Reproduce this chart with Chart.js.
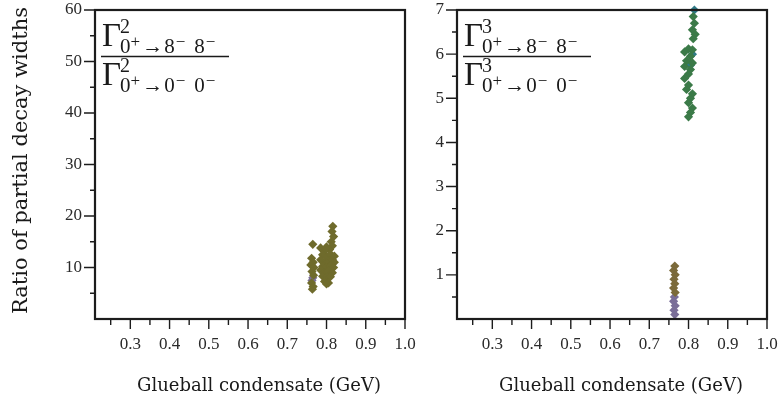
<!DOCTYPE html>
<html><head><meta charset="utf-8">
<script src="https://cdn.jsdelivr.net/npm/chart.js@4.4.1/dist/chart.umd.min.js"></script>
<style>
html,body{margin:0;padding:0;background:#fff;}
#wrap{position:relative;width:782px;height:406px;overflow:hidden;}
.pane{position:absolute;top:0;height:406px;}
#p1{left:0;width:420px;}
#p2{left:420px;width:362px;}
</style></head><body>
<div id="wrap"><div class="pane" id="p1"><canvas id="c1" width="420" height="406"></canvas></div><div class="pane" id="p2"><canvas id="c2" width="362" height="406"></canvas></div></div>
<script>
// ---- data ----
const xRange = [0.21, 1.0];
const xMajorTicks = [0.3, 0.4, 0.5, 0.6, 0.7, 0.8, 0.9, 1.0];
const xMinorTicks = [0.25, 0.35, 0.45, 0.55, 0.65, 0.75, 0.85, 0.95];
const leftYRange = [0, 60];
const leftYTicks = [10, 20, 30, 40, 50, 60];
const leftYMinor = [5, 15, 25, 35, 45, 55];
const rightYRange = [0, 7];
const rightYTicks = [1, 2, 3, 4, 5, 6, 7];
const rightYMinor = [0.5, 1.5, 2.5, 3.5, 4.5, 5.5, 6.5];

// left panel (ratio Γ² 8-8- / 0-0-)
const leftOlive = [
  [0.765,14.5],[0.762,11.8],[0.766,11.0],[0.760,10.5],[0.768,10.0],[0.763,9.2],[0.767,8.5],[0.762,7.0],[0.766,6.3],[0.764,5.8],
  [0.816,18.0],[0.814,17.0],[0.818,16.0],[0.812,15.0],[0.815,14.2],[0.808,13.5],
  [0.785,13.8],[0.795,13.2],[0.800,14.0],[0.790,12.5],[0.800,12.0],[0.810,12.6],[0.820,12.2],
  [0.785,11.5],[0.795,11.0],[0.805,11.2],[0.815,11.5],[0.820,11.0],[0.790,10.2],[0.800,10.0],
  [0.810,10.3],[0.818,10.0],[0.785,9.5],[0.795,9.0],[0.805,9.3],[0.815,9.0],[0.790,8.3],
  [0.800,8.0],[0.810,8.2],[0.795,7.3],[0.805,7.0],[0.800,6.8]
];
const leftPurple = [[0.765,8.0],[0.763,7.5],[0.800,9.8],[0.805,9.2]];

// right panel (ratio Γ³ 8-8- / 0-0-)
const rightGreen = [
  [0.812,6.85],[0.815,6.70],[0.810,6.55],[0.817,6.45],[0.812,6.35],
  [0.800,6.12],[0.810,6.10],[0.790,6.05],[0.805,5.95],[0.795,5.85],[0.810,5.80],[0.790,5.72],
  [0.805,5.65],[0.800,5.55],[0.790,5.45],[0.800,5.30],[0.795,5.20],[0.810,5.10],[0.805,5.00],
  [0.800,4.90],[0.810,4.78],[0.805,4.68],[0.800,4.58]
];
const rightTeal = [[0.815,7.0],[0.810,6.0],[0.805,5.75]];
const rightBrown = [[0.765,1.2],[0.762,1.1],[0.766,1.0],[0.763,0.9],[0.765,0.8],[0.762,0.7],[0.766,0.6]];
const rightPurple = [[0.764,0.5],[0.762,0.4],[0.766,0.3],[0.763,0.2],[0.765,0.1]];

const xTitle = 'Glueball condensate (GeV)';
const yTitle = 'Ratio of partial decay widths';

// ---- drawing helpers ----
const TICK_FONT = {family: "'Liberation Serif', serif", size: 17};
const TICK_COLOR = '#2a2a2a';
const AXIS_COLOR = '#1c1c1c';

function toPts(arr){ return arr.map(p => ({x: p[0], y: p[1]})); }
function ds(arr, color){
  return {data: toPts(arr), backgroundColor: color, borderColor: color, borderWidth: 0,
    pointStyle: 'rectRot', pointRadius: 4.6, pointHoverRadius: 4.6, clip: false};
}

const framePlugin = {
  id: 'frame',
  afterDatasetsDraw(chart, args, o){
    const {ctx, chartArea: a, scales: {x, y}} = chart;
    ctx.save();
    ctx.strokeStyle = AXIS_COLOR;
    ctx.lineWidth = 1.4;
    ctx.beginPath();
    o.xMajor.forEach(v => { const p = x.getPixelForValue(v); ctx.moveTo(p, a.bottom); ctx.lineTo(p, a.bottom + 10); });
    o.xMinor.forEach(v => { const p = x.getPixelForValue(v); ctx.moveTo(p, a.bottom); ctx.lineTo(p, a.bottom + 6); });
    o.yMajor.forEach(v => { const p = y.getPixelForValue(v); ctx.moveTo(a.left, p); ctx.lineTo(a.left - 11, p); });
    o.yMinor.forEach(v => { const p = y.getPixelForValue(v); ctx.moveTo(a.left, p); ctx.lineTo(a.left - 5, p); });
    ctx.stroke();
    ctx.lineWidth = 2.2;
    ctx.strokeRect(a.left, a.top, a.right - a.left, a.bottom - a.top);

    // axis titles
    ctx.fillStyle = '#1a1a1a';
    ctx.textAlign = 'center';
    ctx.textBaseline = 'middle';
    ctx.font = "18px 'DejaVu Serif', serif";
    ctx.fillText(o.xTitle, (a.left + a.right) / 2 + 9, 386);
    if (o.yTitle) {
      ctx.save();
      ctx.translate(22, (a.top + a.bottom) / 2 - 4);
      ctx.rotate(-Math.PI / 2);
      ctx.font = "21px 'DejaVu Serif', serif";
      ctx.fillText(o.yTitle, 0, 0);
      ctx.restore();
    }
    ctx.restore();

    // fraction annotation
    const x0 = a.left + 7;
    ctx.save();
    ctx.fillStyle = '#1a1a1a';
    ctx.textBaseline = 'alphabetic';
    ctx.textAlign = 'left';
    const serif = "'Liberation Serif', serif";
    function rich(xs, base, segs){
      let cx = xs;
      segs.forEach(s => {
        ctx.font = s.size + 'px ' + serif;
        cx += (s.gap || 0);
        ctx.fillText(s.t, cx, base - (s.dy || 0));
        cx += ctx.measureText(s.t).width;
      });
    }
    function term(base, sub){
      ctx.font = '33px ' + serif;
      ctx.fillText('\u0393', x0, base);
      const gw = ctx.measureText('\u0393').width;
      ctx.font = '20px ' + serif;
      ctx.fillText(o.power, x0 + gw - 1, base - 13);
      rich(x0 + gw - 1, base + 7, [
        {t: '0', size: 21},
        {t: '+', size: 17, dy: 6},
        {t: '\u2192', size: 21, gap: 2},
        {t: sub, size: 21, gap: 1},
        {t: '\u2212', size: 17, dy: 6, gap: 1},
        {t: sub, size: 21, gap: 9},
        {t: '\u2212', size: 17, dy: 6, gap: 1}
      ]);
    }
    term(46, '8');
    ctx.strokeStyle = '#1a1a1a';
    ctx.lineWidth = 1.5;
    ctx.beginPath();
    ctx.moveTo(x0 - 1, 56.5); ctx.lineTo(x0 + 127, 56.5);
    ctx.stroke();
    term(85, '0');
    ctx.restore();
  }
};

function makeChart(id, datasets, cfg){
  return new Chart(document.getElementById(id), {
    type: 'scatter',
    data: {datasets},
    plugins: [framePlugin],
    options: {
      responsive: false, animation: false, devicePixelRatio: 1,
      layout: {padding: {top: 10, right: cfg.padRight, left: 0, bottom: 0}},
      plugins: {legend: {display: false}, tooltip: {enabled: false},
        frame: {xMajor: xMajorTicks, xMinor: xMinorTicks, yMajor: cfg.yMajor, yMinor: cfg.yMinor,
          power: cfg.power, xTitle: xTitle, yTitle: cfg.yTitle ? yTitle : null}},
      scales: {
        x: {
          type: 'linear', min: xRange[0], max: xRange[1],
          afterBuildTicks: s => { s.ticks = xMajorTicks.map(v => ({value: v})); },
          afterFit: s => { s.height = 87; s.paddingLeft = 0; s.paddingRight = 0; },
          grid: {display: false, drawTicks: false},
          border: {display: false},
          ticks: {font: TICK_FONT, color: TICK_COLOR, padding: 15, maxRotation: 0, autoSkip: false,
            callback: v => Number(v).toFixed(1)},
          title: {display: false}
        },
        y: {
          type: 'linear', min: cfg.yRange[0], max: cfg.yRange[1],
          afterBuildTicks: s => { s.ticks = cfg.yMajor.map(v => ({value: v})); },
          afterFit: s => { s.width = cfg.yWidth; s.paddingTop = 0; s.paddingBottom = 0; },
          grid: {display: false, drawTicks: false},
          border: {display: false},
          ticks: {font: TICK_FONT, color: TICK_COLOR, padding: 13, autoSkip: false,
            callback: v => String(v)},
          title: {display: false}
        }
      }
    }
  });
}

makeChart('c1', [ds(leftOlive, '#6f6b2c'), ds(leftPurple, '#7b6f96')],
  {padRight: 15, yRange: leftYRange, yMajor: leftYTicks, yMinor: leftYMinor, yWidth: 95, yTitle: true, power: '2'});
makeChart('c2', [ds(rightGreen, '#3b7a48'), ds(rightTeal, '#2f7a86'), ds(rightBrown, '#7b6a3a'), ds(rightPurple, '#7a6e98')],
  {padRight: 15, yRange: rightYRange, yMajor: rightYTicks, yMinor: rightYMinor, yWidth: 37, yTitle: false, power: '3'});
</script>
</body></html>
